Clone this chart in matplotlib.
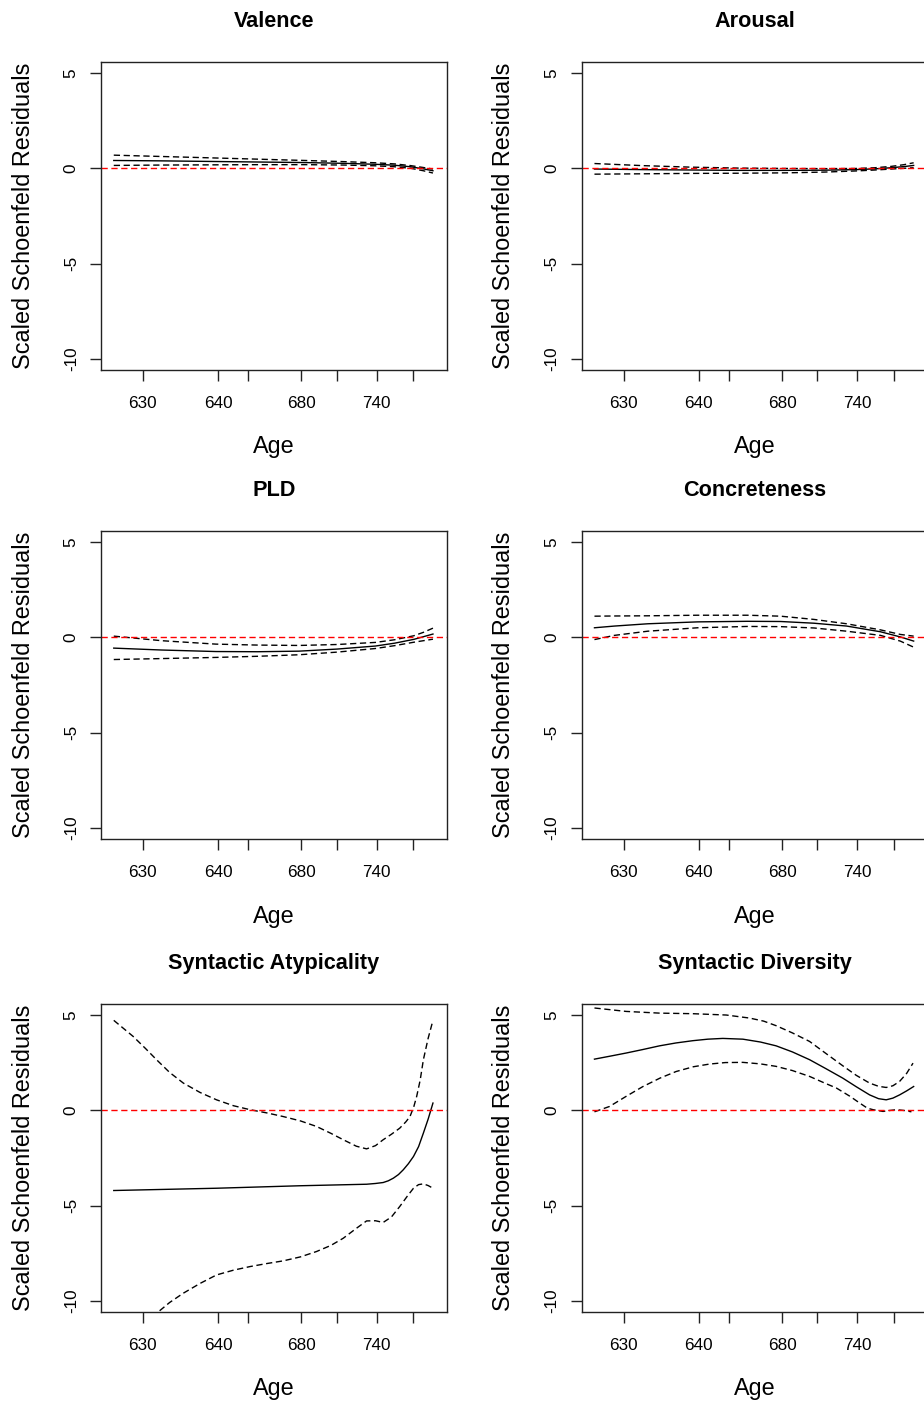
import matplotlib
matplotlib.use("Agg")
import matplotlib.pyplot as plt

plt.rcParams["font.family"] = ["Liberation Sans", "DejaVu Sans"]

# ---- data: smoothed scaled Schoenfeld residuals vs. (KM-transformed) time ----
titles = ["Valence", "Arousal", "PLD", "Concreteness",
          "Syntactic Atypicality", "Syntactic Diversity"]

age_tick_pos = [0.091, 0.327, 0.421, 0.588, 0.698, 0.824, 0.938]
age_tick_labels = ["630", "640", "", "680", "", "740", ""]
y_ticks = [-10, -5, 0, 5]

valence_x = [0.0, 0.15, 0.3, 0.45, 0.6, 0.72, 0.82, 0.88, 0.93, 0.97, 1.0]
valence_fit = [0.42, 0.40, 0.37, 0.34, 0.31, 0.27, 0.22, 0.17, 0.09, -0.02, -0.12]
valence_upper = [0.70, 0.63, 0.56, 0.49, 0.42, 0.36, 0.30, 0.24, 0.15, 0.05, -0.03]
valence_lower = [0.16, 0.18, 0.19, 0.20, 0.20, 0.18, 0.14, 0.09, 0.01, -0.12, -0.24]

arousal_x = [0.0, 0.15, 0.3, 0.45, 0.6, 0.72, 0.82, 0.88, 0.93, 0.97, 1.0]
arousal_fit = [-0.03, -0.06, -0.08, -0.10, -0.10, -0.09, -0.06, -0.02, 0.04, 0.10, 0.16]
arousal_upper = [0.26, 0.15, 0.07, 0.02, 0.00, -0.01, 0.00, 0.04, 0.11, 0.20, 0.30]
arousal_lower = [-0.30, -0.28, -0.26, -0.25, -0.23, -0.19, -0.13, -0.08, -0.03, 0.01, 0.04]

pld_x = [0.0, 0.15, 0.32, 0.45, 0.58, 0.7, 0.82, 0.88, 0.94, 0.97, 1.0]
pld_fit = [-0.56, -0.66, -0.74, -0.75, -0.72, -0.61, -0.45, -0.30, -0.10, 0.04, 0.18]
pld_upper = [0.07, -0.17, -0.35, -0.40, -0.42, -0.37, -0.26, -0.12, 0.09, 0.27, 0.49]
pld_lower = [-1.16, -1.11, -1.05, -0.99, -0.91, -0.77, -0.58, -0.43, -0.25, -0.17, -0.09]

conc_x = [0.0, 0.0625, 0.167, 0.323, 0.479, 0.583, 0.6875, 0.79, 0.896, 0.958, 1.0]
conc_fit = [0.51, 0.60, 0.72, 0.82, 0.85, 0.84, 0.75, 0.60, 0.30, 0.03, -0.19]
conc_upper = [1.12, 1.13, 1.14, 1.17, 1.17, 1.12, 0.95, 0.72, 0.40, 0.16, 0.07]
conc_lower = [-0.11, 0.11, 0.33, 0.51, 0.58, 0.57, 0.50, 0.33, 0.11, -0.19, -0.51]

atyp_fit_x = [0.0, 0.322, 0.583, 0.792, 0.82, 0.844, 0.86, 0.876, 0.892, 0.907,
              0.923, 0.939, 0.955, 0.97, 0.985, 1.0]
atyp_fit = [-4.21, -4.09, -3.96, -3.88, -3.84, -3.79, -3.70, -3.56, -3.37, -3.12,
            -2.80, -2.42, -1.90, -1.19, -0.45, 0.39]
atyp_upper_x = [0.0, 0.061, 0.1, 0.134, 0.175, 0.218, 0.27, 0.322, 0.375, 0.427,
                0.48, 0.531, 0.585, 0.635, 0.68, 0.719, 0.76, 0.792, 0.82, 0.844,
                0.87, 0.896, 0.915, 0.928, 0.94, 0.949, 0.96, 0.97, 0.985, 1.0]
atyp_upper = [4.74, 3.89, 3.25, 2.67, 2.00, 1.44, 0.95, 0.56, 0.25, 0.04,
              -0.13, -0.32, -0.55, -0.84, -1.20, -1.54, -1.88, -2.02, -1.85, -1.54,
              -1.25, -0.93, -0.60, -0.32, 0.20, 0.74, 1.60, 2.67, 3.80, 4.74]
atyp_lower_x = [0.0, 0.061, 0.134, 0.175, 0.218, 0.27, 0.322, 0.375, 0.427, 0.48,
                0.531, 0.585, 0.635, 0.68, 0.719, 0.76, 0.792, 0.82, 0.844, 0.87,
                0.896, 0.92, 0.939, 0.955, 0.97, 0.985, 1.0]
atyp_lower = [-12.5, -11.6, -10.67, -10.1, -9.61, -9.10, -8.65, -8.40, -8.21, -8.05,
              -7.91, -7.70, -7.42, -7.10, -6.72, -6.20, -5.81, -5.80, -5.89, -5.60,
              -5.05, -4.50, -4.09, -3.90, -3.86, -3.95, -4.09]

div_fit_x = [0.0, 0.05, 0.099, 0.15, 0.204, 0.255, 0.308, 0.355, 0.402, 0.465,
             0.52, 0.569, 0.62, 0.674, 0.725, 0.778, 0.82, 0.862, 0.89, 0.914,
             0.935, 0.956, 0.978, 1.0]
div_fit = [2.70, 2.86, 3.02, 3.20, 3.40, 3.55, 3.67, 3.75, 3.79, 3.75,
           3.60, 3.40, 3.08, 2.67, 2.20, 1.70, 1.25, 0.82, 0.62, 0.56,
           0.65, 0.82, 1.03, 1.26]
div_upper_x = [0.0, 0.099, 0.204, 0.308, 0.413, 0.486, 0.53, 0.569, 0.62, 0.674,
               0.725, 0.778, 0.82, 0.862, 0.89, 0.914, 0.935, 0.956, 0.978, 0.998]
div_upper = [5.39, 5.21, 5.12, 5.09, 5.02, 4.86, 4.70, 4.46, 4.08, 3.63,
             3.00, 2.35, 1.85, 1.44, 1.27, 1.21, 1.30, 1.53, 1.95, 2.49]
div_lower_x = [0.0, 0.047, 0.1, 0.152, 0.205, 0.256, 0.31, 0.36, 0.41, 0.465,
               0.52, 0.569, 0.62, 0.674, 0.72, 0.758, 0.8, 0.831, 0.855, 0.873,
               0.904, 0.925, 0.946, 0.97, 0.993]
div_lower = [-0.07, 0.21, 0.75, 1.26, 1.70, 2.05, 2.30, 2.44, 2.52, 2.53,
             2.45, 2.32, 2.10, 1.79, 1.45, 1.18, 0.75, 0.39, 0.12, 0.04,
             -0.05, 0.00, 0.04, 0.00, -0.07]

panels = [
    (valence_x, valence_fit, valence_x, valence_upper, valence_x, valence_lower),
    (arousal_x, arousal_fit, arousal_x, arousal_upper, arousal_x, arousal_lower),
    (pld_x, pld_fit, pld_x, pld_upper, pld_x, pld_lower),
    (conc_x, conc_fit, conc_x, conc_upper, conc_x, conc_lower),
    (atyp_fit_x, atyp_fit, atyp_upper_x, atyp_upper, atyp_lower_x, atyp_lower),
    (div_fit_x, div_fit, div_upper_x, div_upper, div_lower_x, div_lower),
]

# ---- layout (pixel geometry of a 3 x 2 panel grid) ----
W, H = 924, 1402
fig = plt.figure(figsize=(W / 100, H / 100), dpi=100)

col_left = [101, 581.7]
row_top = [62, 531, 1004]
box_w, box_h = 346, 308

dash = (4.5, 2.6)

for i, (title, curves) in enumerate(zip(titles, panels)):
    r, c = divmod(i, 2)
    left = col_left[c] / W
    bottom = 1 - (row_top[r] + box_h) / H
    ax = fig.add_axes([left, bottom, box_w / W, box_h / H])

    fx, fy, ux, uy, lx, ly = curves
    ax.plot(fx, fy, color="black", lw=1.0)
    ax.plot(ux, uy, color="black", lw=1.0, ls=(0, dash))
    ax.plot(lx, ly, color="black", lw=1.0, ls=(0, dash))
    ax.axhline(0, color="red", lw=1.0, ls=(0, dash))

    ax.set_xlim(-0.04, 1.044)
    ax.set_ylim(-10.6, 5.6)
    ax.set_xticks(age_tick_pos)
    ax.set_xticklabels(age_tick_labels)
    ax.set_yticks(y_ticks)
    ax.set_yticklabels([str(v) for v in y_ticks])

    for s in ax.spines.values():
        s.set_linewidth(1.0)
        s.set_color("#222222")
    ax.tick_params(axis="both", direction="out", length=8, width=1.0,
                   color="#222222", labelsize=12.3)
    ax.tick_params(axis="x", pad=10.5)
    ax.tick_params(axis="y", pad=8, labelrotation=90)
    for lbl in ax.get_yticklabels():
        lbl.set_va("center")

    ax.set_xlabel("Age", fontsize=16.8)
    ax.xaxis.label.set_va("center")
    ax.xaxis.set_label_coords(0.5, -0.25)
    ax.set_ylabel("Scaled Schoenfeld Residuals", fontsize=16.9)
    ax.yaxis.label.set_va("center")
    ax.yaxis.set_label_coords(-(101 - 23) / box_w, 0.5)

    ax.text(0.5, 1 + 35 / box_h, title, transform=ax.transAxes,
            ha="center", va="baseline", fontsize=15.6, fontweight="bold")

fig.savefig("out.png", dpi=100)
